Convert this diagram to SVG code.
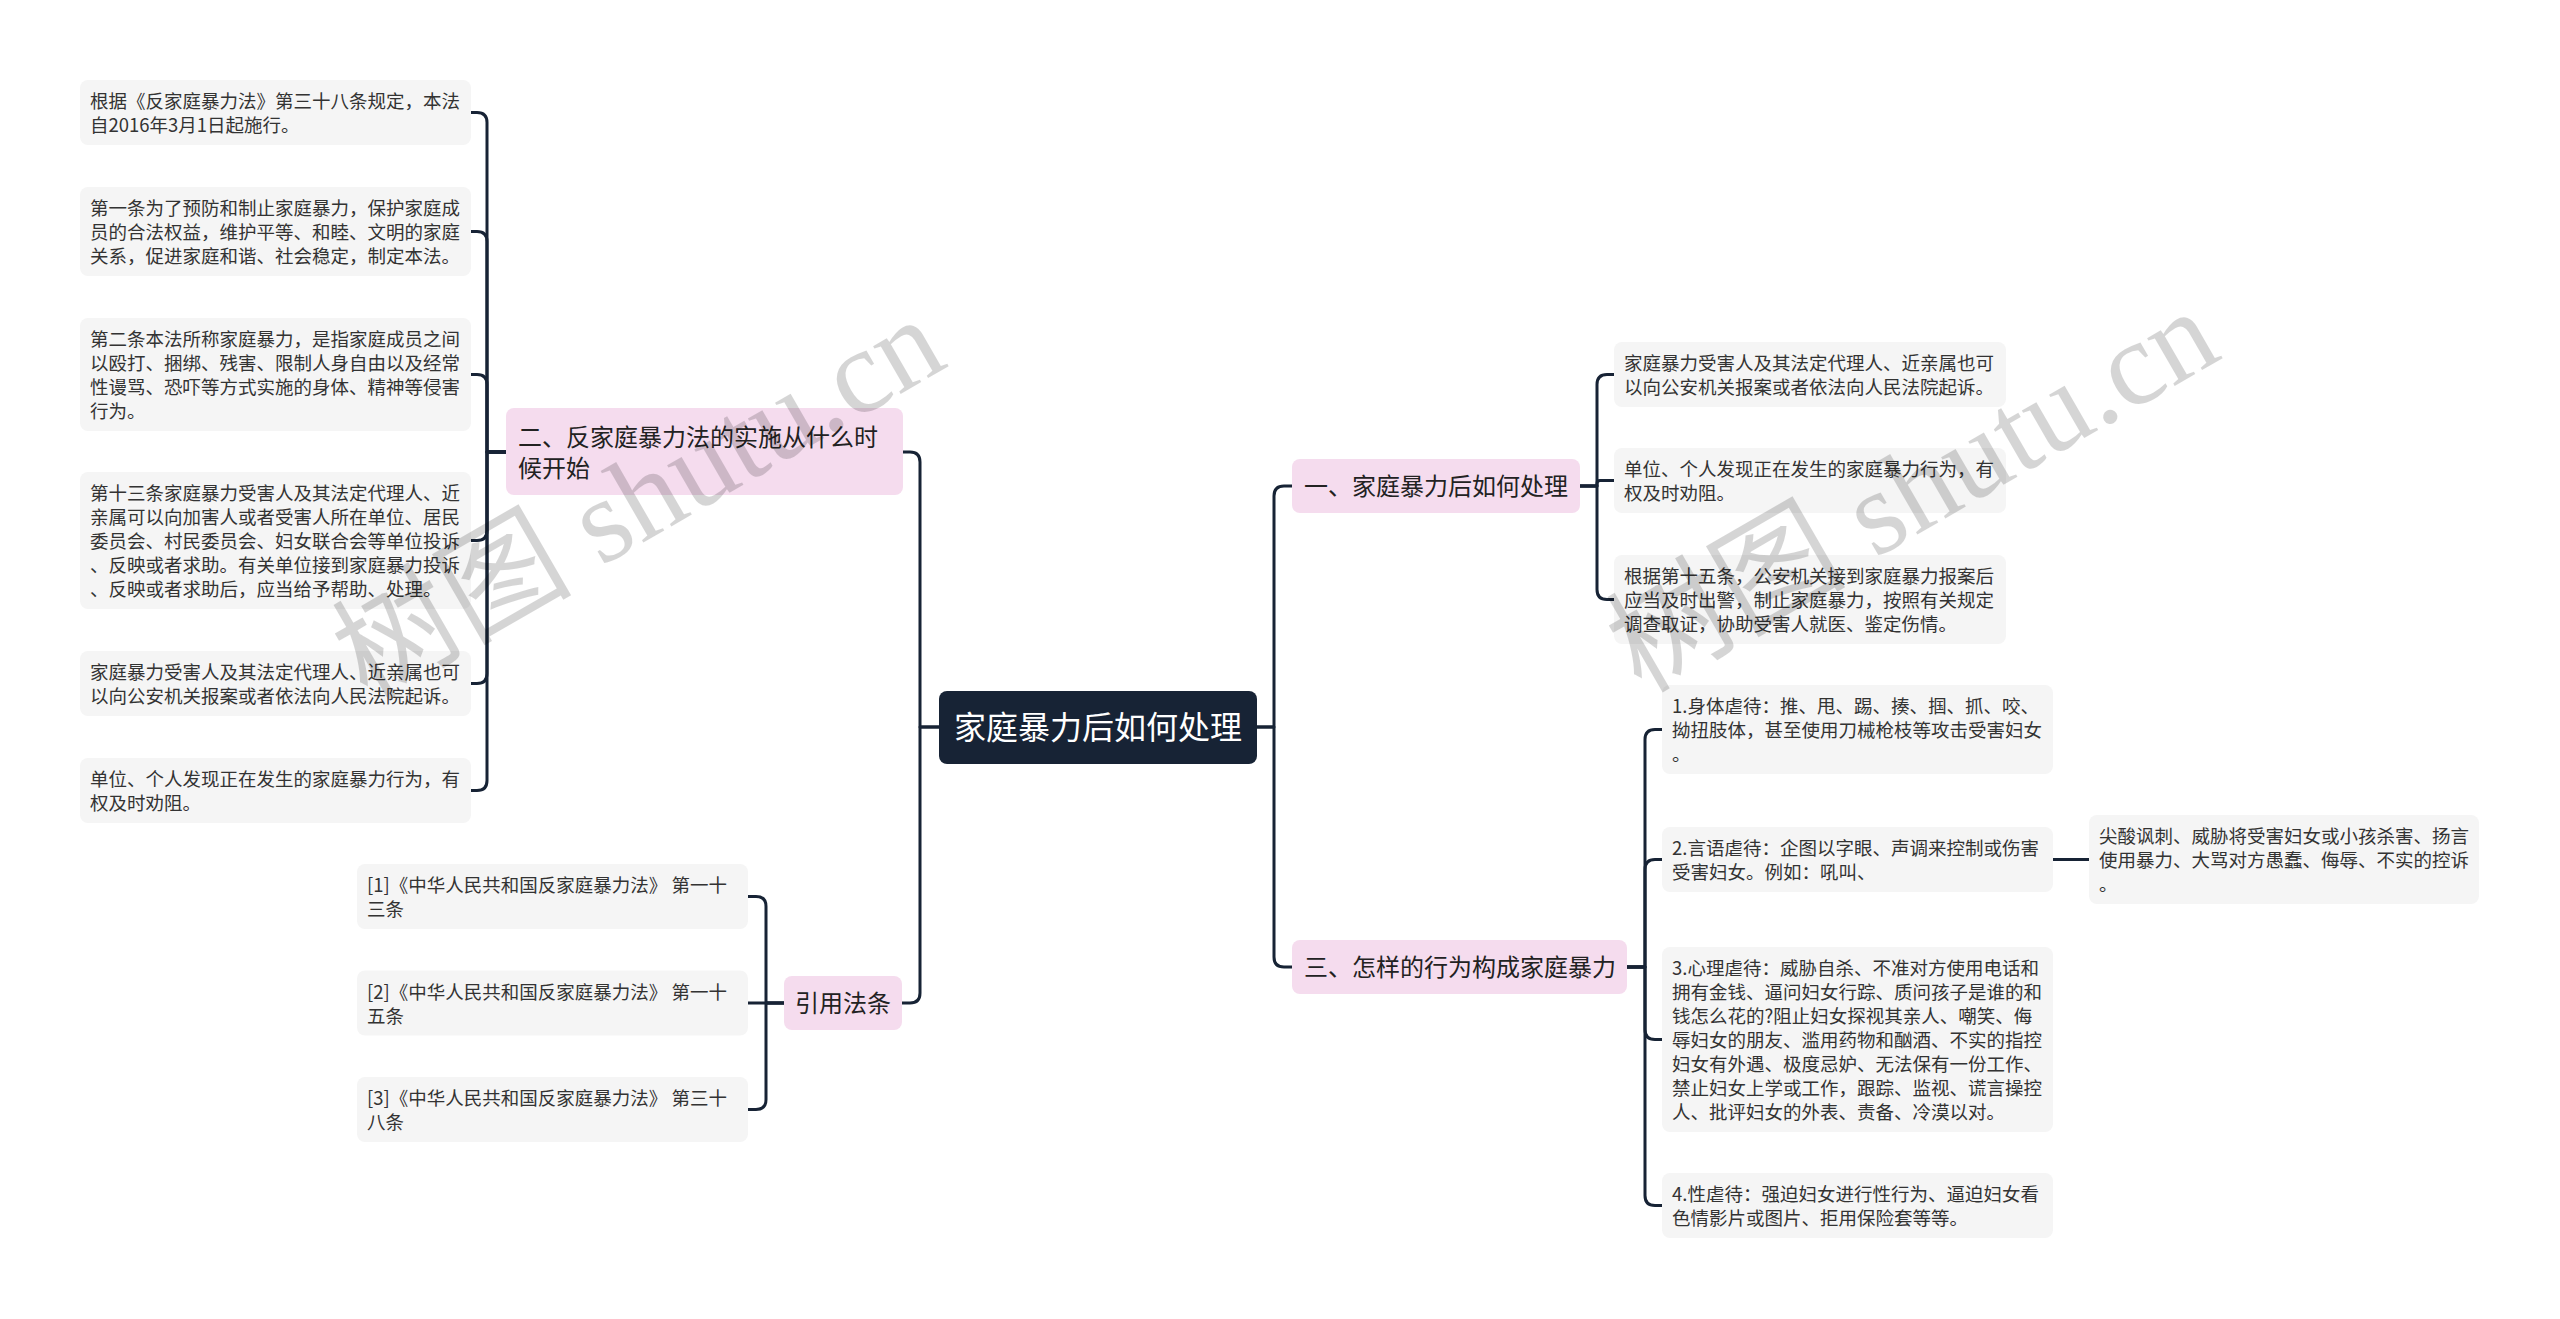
<svg xmlns="http://www.w3.org/2000/svg" width="2560" height="1319" viewBox="0 0 2560 1319">
<style>
.leaf{fill:#f5f5f5;}
.pink{fill:#f5dcee;}
.root{fill:#172335;}
.t{font-family:"Noto Sans CJK SC","Noto Sans",sans-serif;font-size:18.5px;fill:#333333;}
.tp{font-family:"Noto Sans CJK SC","Noto Sans",sans-serif;font-size:24px;fill:#222222;}
.tr{font-family:"Noto Sans CJK SC","Noto Sans",sans-serif;font-size:32px;fill:#ffffff;}
.c{fill:none;stroke:#172335;stroke-width:3;stroke-linecap:round;stroke-linejoin:round;}
.wm{font-family:"Liberation Serif","Noto Sans CJK SC",serif;font-size:120px;fill:#000000;opacity:0.16;}
</style>
<rect width="2560" height="1319" fill="#ffffff"/>
<g id="connectors">
<path class="c" d="M939,727 H920 V462 Q920,452 910,452 H903"/>
<path class="c" d="M939,727 H920 V993 Q920,1003 910,1003 H902"/>
<path class="c" d="M1257,727 H1274 V496 Q1274,486 1284,486 H1292"/>
<path class="c" d="M1257,727 H1274 V957 Q1274,967 1284,967 H1292"/>
<path class="c" d="M506,452 H487 V122.5 Q487,112.5 477,112.5 H471"/>
<path class="c" d="M506,452 H487 V241.5 Q487,231.5 477,231.5 H471"/>
<path class="c" d="M506,452 H487 V384.5 Q487,374.5 477,374.5 H471"/>
<path class="c" d="M506,452 H487 V530.5 Q487,540.5 477,540.5 H471"/>
<path class="c" d="M506,452 H487 V673.5 Q487,683.5 477,683.5 H471"/>
<path class="c" d="M506,452 H487 V780.5 Q487,790.5 477,790.5 H471"/>
<path class="c" d="M784,1003 H766 V906.5 Q766,896.5 756,896.5 H748"/>
<path class="c" d="M784,1003 H748"/>
<path class="c" d="M784,1003 H766 V1099.5 Q766,1109.5 756,1109.5 H748"/>
<path class="c" d="M1580,486 H1597 V384.5 Q1597,374.5 1607,374.5 H1614"/>
<path class="c" d="M1580,486 H1597 V483.5 Q1597,480.5 1600,480.5 H1614"/>
<path class="c" d="M1580,486 H1597 V589.5 Q1597,599.5 1607,599.5 H1614"/>
<path class="c" d="M1627,967 H1645 V739.5 Q1645,729.5 1655,729.5 H1662"/>
<path class="c" d="M1627,967 H1645 V869.5 Q1645,859.5 1655,859.5 H1662"/>
<path class="c" d="M1627,967 H1645 V1029.5 Q1645,1039.5 1655,1039.5 H1662"/>
<path class="c" d="M1627,967 H1645 V1195.5 Q1645,1205.5 1655,1205.5 H1662"/>
<path class="c" d="M2053,859.5 H2089"/>
</g>
<g id="root">
<rect class="root" x="939" y="691" width="318" height="73" rx="8"/>
<text class="tr" x="1098" y="739" text-anchor="middle">家庭暴力后如何处理</text>
</g>
<g id="n2">
<rect class="pink" x="506" y="408" width="397" height="87" rx="8"/>
<text class="tp" x="518" y="446">二、反家庭暴力法的实施从什么时</text>
<text class="tp" x="518" y="477">候开始</text>
</g>
<g id="n2c1">
<rect class="leaf" x="80" y="80" width="391" height="65" rx="8"/>
<text class="t" x="90" y="108">根据《反家庭暴力法》第三十八条规定，本法</text>
<text class="t" x="90" y="132">自2016年3月1日起施行。</text>
</g>
<g id="n2c2">
<rect class="leaf" x="80" y="187" width="391" height="89" rx="8"/>
<text class="t" x="90" y="215">第一条为了预防和制止家庭暴力，保护家庭成</text>
<text class="t" x="90" y="239">员的合法权益，维护平等、和睦、文明的家庭</text>
<text class="t" x="90" y="263">关系，促进家庭和谐、社会稳定，制定本法。</text>
</g>
<g id="n2c3">
<rect class="leaf" x="80" y="318" width="391" height="113" rx="8"/>
<text class="t" x="90" y="346">第二条本法所称家庭暴力，是指家庭成员之间</text>
<text class="t" x="90" y="370">以殴打、捆绑、残害、限制人身自由以及经常</text>
<text class="t" x="90" y="394">性谩骂、恐吓等方式实施的身体、精神等侵害</text>
<text class="t" x="90" y="418">行为。</text>
</g>
<g id="n2c4">
<rect class="leaf" x="80" y="472" width="391" height="137" rx="8"/>
<text class="t" x="90" y="500">第十三条家庭暴力受害人及其法定代理人、近</text>
<text class="t" x="90" y="524">亲属可以向加害人或者受害人所在单位、居民</text>
<text class="t" x="90" y="548">委员会、村民委员会、妇女联合会等单位投诉</text>
<text class="t" x="90" y="572">、反映或者求助。有关单位接到家庭暴力投诉</text>
<text class="t" x="90" y="596">、反映或者求助后，应当给予帮助、处理。</text>
</g>
<g id="n2c5">
<rect class="leaf" x="80" y="651" width="391" height="65" rx="8"/>
<text class="t" x="90" y="679">家庭暴力受害人及其法定代理人、近亲属也可</text>
<text class="t" x="90" y="703">以向公安机关报案或者依法向人民法院起诉。</text>
</g>
<g id="n2c6">
<rect class="leaf" x="80" y="758" width="391" height="65" rx="8"/>
<text class="t" x="90" y="786">单位、个人发现正在发生的家庭暴力行为，有</text>
<text class="t" x="90" y="810">权及时劝阻。</text>
</g>
<g id="ref">
<rect class="pink" x="784" y="976" width="118" height="54" rx="8"/>
<text class="tp" x="843" y="1012" text-anchor="middle">引用法条</text>
</g>
<g id="ref1">
<rect class="leaf" x="357" y="864" width="391" height="65" rx="8"/>
<text class="t" x="367" y="892">[1]《中华人民共和国反家庭暴力法》 第一十</text>
<text class="t" x="367" y="916">三条</text>
</g>
<g id="ref2">
<rect class="leaf" x="357" y="970.5" width="391" height="65" rx="8"/>
<text class="t" x="367" y="998.5">[2]《中华人民共和国反家庭暴力法》 第一十</text>
<text class="t" x="367" y="1022.5">五条</text>
</g>
<g id="ref3">
<rect class="leaf" x="357" y="1077" width="391" height="65" rx="8"/>
<text class="t" x="367" y="1105">[3]《中华人民共和国反家庭暴力法》 第三十</text>
<text class="t" x="367" y="1129">八条</text>
</g>
<g id="n1">
<rect class="pink" x="1292" y="459" width="288" height="54" rx="8"/>
<text class="tp" x="1304" y="495">一、家庭暴力后如何处理</text>
</g>
<g id="n1c1">
<rect class="leaf" x="1614" y="342" width="392" height="65" rx="8"/>
<text class="t" x="1624" y="370">家庭暴力受害人及其法定代理人、近亲属也可</text>
<text class="t" x="1624" y="394">以向公安机关报案或者依法向人民法院起诉。</text>
</g>
<g id="n1c2">
<rect class="leaf" x="1614" y="448" width="392" height="65" rx="8"/>
<text class="t" x="1624" y="476">单位、个人发现正在发生的家庭暴力行为，有</text>
<text class="t" x="1624" y="500">权及时劝阻。</text>
</g>
<g id="n1c3">
<rect class="leaf" x="1614" y="555" width="392" height="89" rx="8"/>
<text class="t" x="1624" y="583">根据第十五条，公安机关接到家庭暴力报案后</text>
<text class="t" x="1624" y="607">应当及时出警，制止家庭暴力，按照有关规定</text>
<text class="t" x="1624" y="631">调查取证，协助受害人就医、鉴定伤情。</text>
</g>
<g id="n3">
<rect class="pink" x="1292" y="940" width="335" height="54" rx="8"/>
<text class="tp" x="1304" y="976">三、怎样的行为构成家庭暴力</text>
</g>
<g id="n3c1">
<rect class="leaf" x="1662" y="685" width="391" height="89" rx="8"/>
<text class="t" x="1672" y="713">1.身体虐待：推、甩、踢、揍、掴、抓、咬、</text>
<text class="t" x="1672" y="737">拗扭肢体，甚至使用刀械枪枝等攻击受害妇女</text>
<text class="t" x="1672" y="761">。</text>
</g>
<g id="n3c2">
<rect class="leaf" x="1662" y="827" width="391" height="65" rx="8"/>
<text class="t" x="1672" y="855">2.言语虐待：企图以字眼、声调来控制或伤害</text>
<text class="t" x="1672" y="879">受害妇女。例如：吼叫、</text>
</g>
<g id="n3c2s">
<rect class="leaf" x="2089" y="815" width="390" height="89" rx="8"/>
<text class="t" x="2099" y="843">尖酸讽刺、威胁将受害妇女或小孩杀害、扬言</text>
<text class="t" x="2099" y="867">使用暴力、大骂对方愚蠢、侮辱、不实的控诉</text>
<text class="t" x="2099" y="891">。</text>
</g>
<g id="n3c3">
<rect class="leaf" x="1662" y="947" width="391" height="185" rx="8"/>
<text class="t" x="1672" y="975">3.心理虐待：威胁自杀、不准对方使用电话和</text>
<text class="t" x="1672" y="999">拥有金钱、逼问妇女行踪、质问孩子是谁的和</text>
<text class="t" x="1672" y="1023">钱怎么花的?阻止妇女探视其亲人、嘲笑、侮</text>
<text class="t" x="1672" y="1047">辱妇女的朋友、滥用药物和酗酒、不实的指控</text>
<text class="t" x="1672" y="1071">妇女有外遇、极度忌妒、无法保有一份工作、</text>
<text class="t" x="1672" y="1095">禁止妇女上学或工作，跟踪、监视、谎言操控</text>
<text class="t" x="1672" y="1119">人、批评妇女的外表、责备、冷漠以对。</text>
</g>
<g id="n3c4">
<rect class="leaf" x="1662" y="1173" width="391" height="65" rx="8"/>
<text class="t" x="1672" y="1201">4.性虐待：强迫妇女进行性行为、逼迫妇女看</text>
<text class="t" x="1672" y="1225">色情影片或图片、拒用保险套等等。</text>
</g>
<g id="watermark">
<text class="wm" x="367" y="702" transform="rotate(-30 367 702)">树图 shutu.cn</text>
<text class="wm" x="1641" y="694" transform="rotate(-30 1641 694)">树图 shutu.cn</text>
</g>
</svg>
